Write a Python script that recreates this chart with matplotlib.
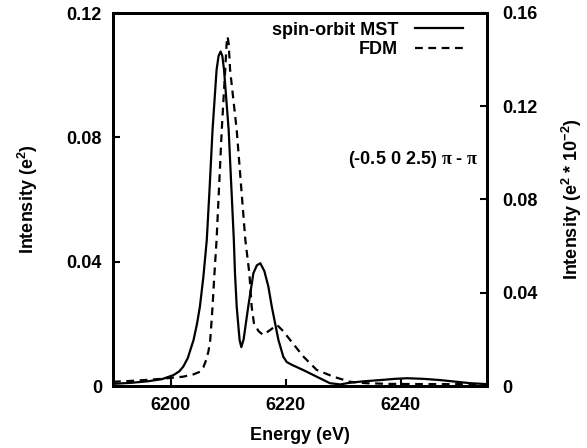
import matplotlib
matplotlib.use("Agg")
import matplotlib.pyplot as plt

plt.rcParams['font.family'] = ['Liberation Sans', 'DejaVu Sans']
plt.rcParams['font.weight'] = 'bold'
plt.rcParams['mathtext.fontset'] = 'custom'
plt.rcParams['mathtext.rm'] = 'Liberation Serif'
plt.rcParams['mathtext.it'] = 'Liberation Serif:italic'
plt.rcParams['mathtext.bf'] = 'Liberation Sans:bold'

# spin-orbit MST (left axis)
mst_energy = [6190, 6193, 6196, 6198.5, 6200.5, 6201.5, 6202.2, 6203.0, 6204.0,
              6204.6, 6205.1, 6205.7, 6206.3, 6206.8, 6207.3, 6208.0, 6208.35, 6208.7,
              6209.0, 6209.3, 6210.1, 6211.0, 6211.2, 6211.5, 6212.0, 6212.3, 6212.7,
              6213.5, 6214.4, 6215.0, 6215.6, 6216.3, 6217.0, 6217.6, 6218.75,
              6219.6, 6220.2, 6221.1, 6223.1, 6225.4, 6227.7, 6229.5,
              6231, 6233.5, 6236.4, 6239, 6241.1, 6244, 6246.9, 6249.5, 6252.1, 6255]
mst_int = [0.0007, 0.0010, 0.0015, 0.0022, 0.0035, 0.0047, 0.0062, 0.0090, 0.0148,
           0.0200, 0.0255, 0.0350, 0.047, 0.064, 0.0824, 0.1017, 0.1062, 0.1076,
           0.1062, 0.1017, 0.0824, 0.047, 0.0363, 0.0255, 0.0148, 0.0125, 0.0150,
           0.0255, 0.0363, 0.0388, 0.0395, 0.0370, 0.0320, 0.0255, 0.0148,
           0.0094, 0.0077, 0.0068, 0.0051, 0.0030, 0.0009, 0.0005,
           0.0010, 0.0015, 0.0019, 0.0023, 0.0025, 0.0023, 0.0019, 0.0014, 0.0009, 0.0006]

# FDM (right axis)
fdm_energy = [6190, 6194, 6198, 6202.2, 6204.0, 6205.1, 6205.7, 6206.2, 6206.6,
              6206.9, 6207.3, 6207.6, 6208.0, 6208.9, 6209.5, 6209.75, 6209.9, 6210.1,
              6210.35, 6211.5, 6213.0, 6213.7, 6214.1, 6214.5, 6215.3, 6216.1, 6217.3,
              6218.5, 6219.6, 6220.8, 6223.1, 6225.4, 6228.3, 6231.2, 6234,
              6238, 6245, 6250, 6255]
fdm_int = [0.0018, 0.0023, 0.0030, 0.0040, 0.0050, 0.0061, 0.0080, 0.0112, 0.0150,
           0.0197, 0.034, 0.047, 0.0626, 0.1098, 0.1356, 0.1470, 0.1499, 0.1470,
           0.1356, 0.1098, 0.0626, 0.0483, 0.034, 0.0269, 0.0235, 0.0219, 0.0240,
           0.0262, 0.0235, 0.0197, 0.0126, 0.0069, 0.0040, 0.0018, 0.0012,
           0.0009, 0.0008, 0.0008, 0.0007]

x_ticks = [6200, 6220, 6240]
left_ticks = [0, 0.04, 0.08, 0.12]
left_labels = ['0', '0.04', '0.08', '0.12']
right_ticks = [0, 0.04, 0.08, 0.12, 0.16]
right_labels = ['0', '0.04', '0.08', '0.12', '0.16']

fs = 13
fig = plt.figure(figsize=(5.87, 4.48), dpi=100)
ax = fig.add_axes([113/587, 62/448, 374/587, 373/448])
ax2 = ax.twinx()

l1, = ax.plot(mst_energy, mst_int, color='black', lw=1.6, label='spin-orbit MST')
l2, = ax2.plot(fdm_energy, fdm_int, color='black', lw=1.6, dashes=(3.5, 2.5), label='FDM')

ax.set_xlim(6190, 6255)
ax.set_ylim(0, 0.12)
ax2.set_ylim(0, 0.16)

ax.set_xticks(x_ticks)
ax.set_xticklabels([str(t) for t in x_ticks], fontsize=fs, fontweight='bold')
ax.set_yticks(left_ticks)
ax.set_yticklabels(left_labels, fontsize=fs, fontweight='bold')
ax2.set_yticks(right_ticks)
ax2.set_yticklabels(right_labels, fontsize=fs, fontweight='bold')

ax.tick_params(axis='x', direction='in', length=5, width=1.5, pad=8, top=False)
ax.tick_params(axis='y', direction='in', length=5, width=1.5, pad=8, right=False)
ax2.tick_params(axis='y', direction='in', length=5, width=1.5, pad=11)

for a in (ax, ax2):
    for s in a.spines.values():
        s.set_linewidth(2)

ax.set_xlabel('Energy (eV)', fontsize=fs, fontweight='bold', labelpad=9)
ax.set_ylabel(r'Intensity ($\mathbf{e^2}$)', fontsize=fs, fontweight='bold', labelpad=19)
ax2.set_ylabel(r'Intensity ($\mathbf{e^2}$ * $\mathbf{10^{-2}}$)', fontsize=fs,
               fontweight='bold', rotation=90, labelpad=16)

ax2.legend(handles=[l1, l2], loc='upper right', bbox_to_anchor=(0.936, 0.977),
           frameon=False, markerfirst=False, handlelength=2.66,
           handletextpad=0.94, labelspacing=0.15, borderpad=0, borderaxespad=0,
           prop={'weight': 'bold', 'size': fs})

ax2.text(0.977, 0.608, r'(-0.5 0 2.5) $\mathrm{\pi}$ - $\mathrm{\pi}$', transform=ax.transAxes,
         ha='right', va='center', fontsize=fs, fontweight='bold')

fig.savefig('out.png', dpi=100)
